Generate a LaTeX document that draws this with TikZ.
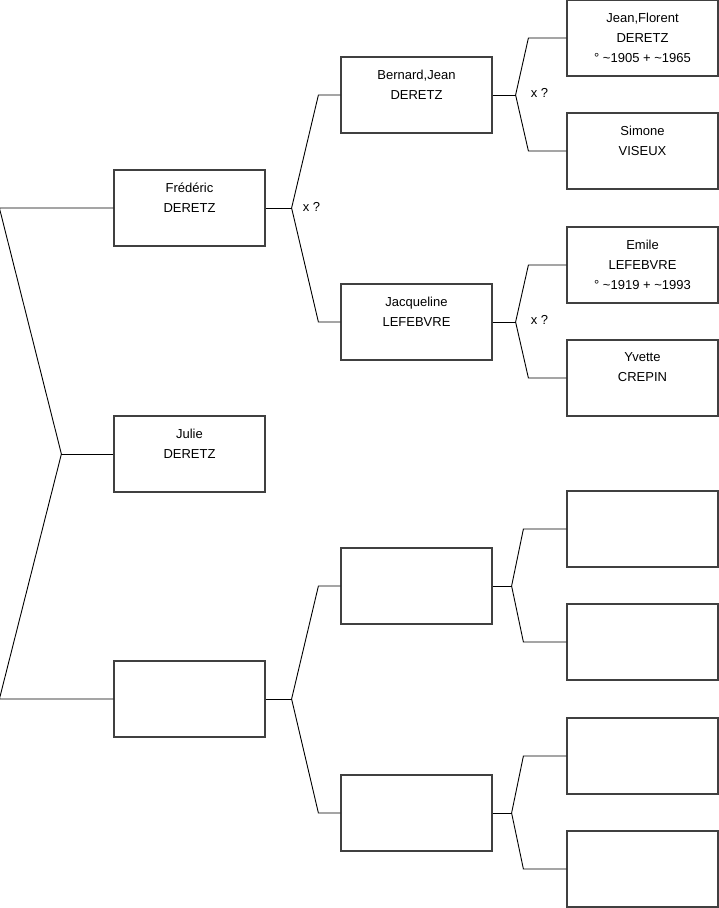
\documentclass[tikz,border=0pt]{standalone}
\usepackage{fontspec}
\setmainfont{Liberation Sans}
\usetikzlibrary{positioning}

\begin{document}
\begin{tikzpicture}[
    x=1pt, y=-1pt,
    font=\fontsize{13}{20}\selectfont,
    person/.style={draw=black!75, line width=1.2pt, minimum width=151pt, minimum height=76pt, inner sep=0pt},
    pname/.style={anchor=north, align=center, inner sep=0pt, yshift=-13pt, execute at begin node=\strut},
    link/.style={draw=black, line width=0.9pt},
    union/.style={inner sep=0pt}
]
\useasboundingbox (0,0) rectangle (719,908);
% generation 1-2
\node[person, label={[pname]north:Julie\\DERETZ}] (julie) at (189.5,454) {};
\node[person, label={[pname]north:Frédéric\\DERETZ}] (fred) at (189.5,208) {};
\node[person] (blankB) at (189.5,699) {};
% generation 3
\node[person, label={[pname]north:Bernard,Jean\\DERETZ}] (bernard) at (416.5,95) {};
\node[person, label={[pname]north:Jacqueline\\LEFEBVRE}] (jacq) at (416.5,322) {};
\node[person] (blankC) at (416.5,586) {};
\node[person] (blankD) at (416.5,813) {};
% generation 4
\node[person, label={[pname]north:Jean,Florent\\DERETZ\\° \textasciitilde1905 + \textasciitilde1965}] (jean) at (642.5,38) {};
\node[person, label={[pname]north:Simone\\VISEUX}] (simone) at (642.5,151) {};
\node[person, label={[pname]north:Emile\\LEFEBVRE\\° \textasciitilde1919 + \textasciitilde1993}] (emile) at (642.5,265) {};
\node[person, label={[pname]north:Yvette\\CREPIN}] (yvette) at (642.5,378) {};
\node[person] (blankE) at (642.5,529) {};
\node[person] (blankF) at (642.5,642) {};
\node[person] (blankG) at (642.5,756) {};
\node[person] (blankH) at (642.5,869) {};

% sibling bracket
\draw[link] (julie.west) -- ++(-52,0) coordinate (jv);
\draw[link] (fred.west) -- ([xshift=-114pt]fred.west) -- (jv) -- ([xshift=-114pt]blankB.west) -- (blankB.west);

% parent forks
\foreach \c/\f/\m/\a/\b in {fred/bernard/jacq/26/22, blankB/blankC/blankD/26/22,
    bernard/jean/simone/23/38, jacq/emile/yvette/23/38,
    blankC/blankE/blankF/19/43, blankD/blankG/blankH/19/43}{
  \draw[link] (\c.east) -- ++(\a,0) coordinate (v);
  \draw[link] (v) -- ([xshift=-\b pt]\f.west) -- (\f.west);
  \draw[link] (v) -- ([xshift=-\b pt]\m.west) -- (\m.west);
}

\node[union] (u1) at (311.5,207) {x ?};
\node[union] (u2) at (539.5,93) {x ?};
\node[union] (u3) at (539.5,320) {x ?};
\end{tikzpicture}
\end{document}
